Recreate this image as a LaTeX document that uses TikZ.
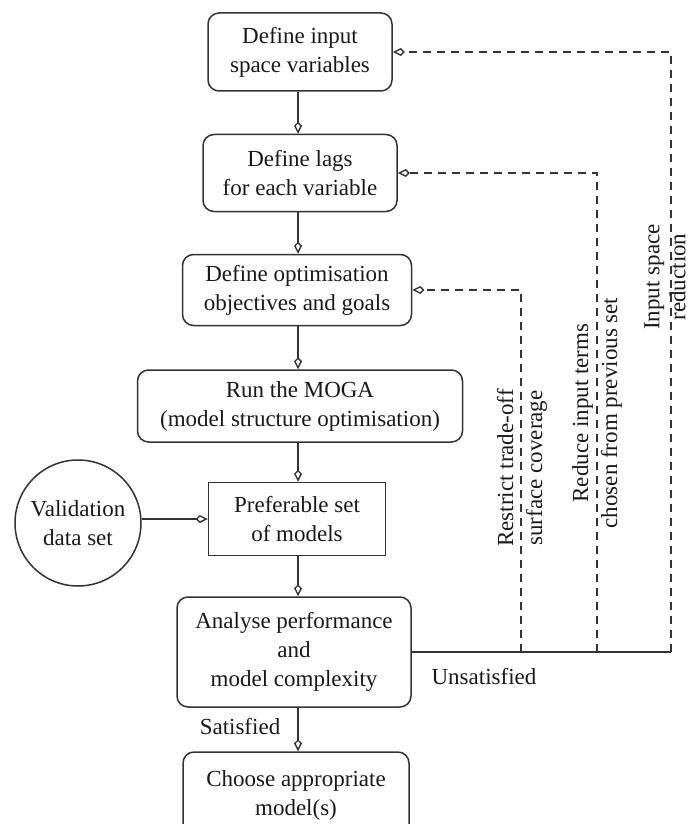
\documentclass[tikz,border=0pt]{standalone}
\usepackage{fontspec}
\setmainfont{Liberation Serif}
\usetikzlibrary{arrows.meta}
\begin{document}
\begin{tikzpicture}[x=1pt,y=-1pt,
  every node/.style={font=\fontsize{23}{29}\selectfont, text=black!90},
  roundbox/.style={draw=black!80, line width=1.5pt, rounded corners=11pt, align=center, inner sep=0pt},
  squarebox/.style={draw=black!80, line width=1.5pt, align=center, inner sep=0pt},
  flow/.style={draw=black!80, line width=1.5pt, -{Kite[open,length=12pt,width=8pt,inset=4pt,line width=1.4pt]}},
  feedback/.style={draw=black!80, line width=1.4pt, dash pattern=on 8pt off 6pt, -{Kite[open,length=12pt,width=8pt,inset=4pt,line width=1.4pt]}},
  plain/.style={draw=black!80, line width=1.5pt},
  vlabel/.style={rotate=90, align=center}]
\useasboundingbox (0,0) rectangle (694,824);

% main chain of steps
\node[roundbox, minimum width=184pt, minimum height=78pt] (b1) at (300,52) {Define input\\space variables};
\node[roundbox, minimum width=194pt, minimum height=77pt] (b2) at (300,173) {Define lags\\for each variable};
\node[roundbox, minimum width=229pt, minimum height=71pt] (b3) at (297,290) {Define optimisation\\objectives and goals};
\node[roundbox, minimum width=325pt, minimum height=72pt] (b4) at (300,406) {Run the MOGA\\(model structure optimisation)};
\node[squarebox, minimum width=177pt, minimum height=73pt] (b5) at (297,519) {Preferable set\\of models};
\node[draw=black!80, line width=1.5pt, circle, minimum size=126pt, inner sep=0pt, align=center] (val) at (78,523) {Validation\\data set};
\node[roundbox, minimum width=234pt, minimum height=110pt] (b6) at (294,652) {Analyse performance\\and\\model complexity};
\node[roundbox, minimum width=226pt, minimum height=86pt] (b7) at (296,795) {Choose appropriate\\model(s)};

\draw[flow] (b1.south -| 298,0) -- (b2.north -| 298,0);
\draw[flow] (b2.south -| 298,0) -- (b3.north -| 298,0);
\draw[flow] (b3.south -| 298,0) -- (b4.north -| 298,0);
\draw[flow] (b4.south -| 298,0) -- (b5.north -| 298,0);
\draw[flow] (b5.south -| 298,0) -- (b6.north -| 298,0);
\draw[flow] (b6.south -| 298,0) -- (b7.north -| 298,0);
\draw[flow] (val.east |- b5.west) -- (b5.west);

% feedback loops
\coordinate (j3) at (521,652);
\coordinate (j2) at (597,652);
\coordinate (j1) at (671,652);
\draw[plain] (b6.east) -- (j1);
\draw[feedback] (j1) |- (b1.east);
\draw[feedback] (j2) |- (b2.east);
\draw[feedback] (j3) |- (b3.east);

\node[vlabel] (l3) at (522,468) {Restrict trade-off\\surface coverage};
\node[vlabel] (l2) at (597,413) {Reduce input terms\\chosen from previous set};
\node[vlabel, font=\fontsize{23}{26}\selectfont] (l1) at (665,277) {Input space\\reduction};

\node (uns) at (484,677) {Unsatisfied};
\node (sat) at (240,727) {Satisfied};
\end{tikzpicture}
\end{document}
